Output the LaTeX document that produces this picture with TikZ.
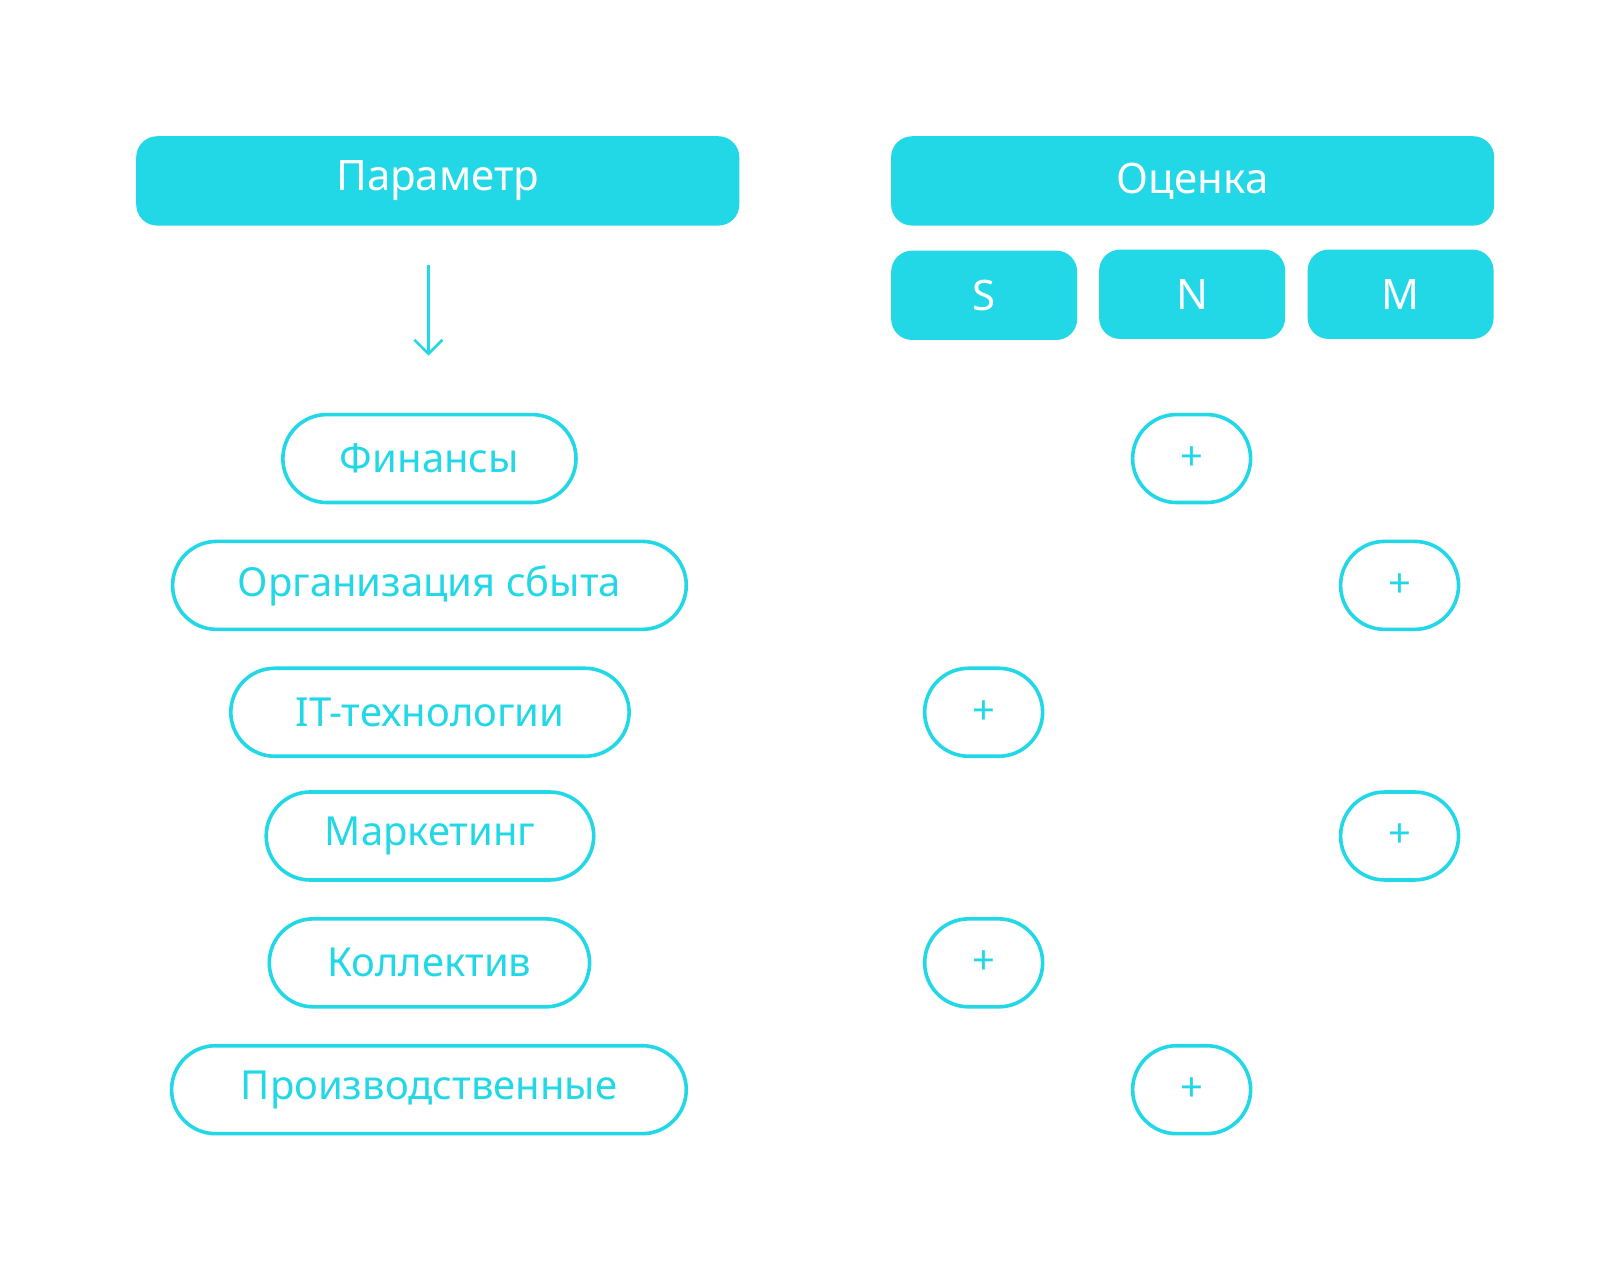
\documentclass[tikz,border=0pt]{standalone}
\usepackage{fontspec}
\setmainfont{Noto Sans}
\definecolor{cy}{HTML}{22D8E6}
\usetikzlibrary{arrows.meta}
\begin{document}
\begin{tikzpicture}[x=0.52pt,y=-0.52pt,
 hdr/.style={fill=cy,rounded corners=10.5pt,text=white,minimum height=44.7pt,inner sep=0,font=\fontsize{21}{24}\selectfont},
 pill/.style={draw=cy,line width=1.8pt,rounded corners=22pt,text=cy,minimum height=44pt,inner sep=0,font=\fontsize{20}{24}\selectfont},
 plus/.style={pill,minimum width=59pt}]
\useasboundingbox (0,0) rectangle (1558,1215);
\node[hdr,minimum width=301.6pt] (par) at (421,174) {Параметр};
\node[hdr,minimum width=301.6pt] (oc) at (1147,174) {Оценка};
\node[hdr,minimum width=93pt] (s) at (946.5,284) {S};
\node[hdr,minimum width=93pt] (n) at (1146.5,283) {N};
\node[hdr,minimum width=93pt] (m) at (1347,283) {M};
\coordinate (a1) at (412,255); \coordinate (a2) at (412,342);
\draw[cy,line width=1.3pt,-{Straight Barb[length=7pt,width=14pt]}] (a1) -- (a2);
\node[pill,minimum width=146.6pt,font=\fontsize{20}{24}\selectfont\bfseries] (f) at (413,441) {Финансы};
\node[pill,minimum width=256.9pt] (o) at (413,563) {Организация сбыта};
\node[pill,minimum width=199.2pt] (it) at (413.5,685) {IT-технологии};
\node[pill,minimum width=163.8pt] (mk) at (413.5,804) {Маркетинг};
\node[pill,minimum width=160.2pt] (k) at (413,926) {Коллектив};
\node[pill,minimum width=257.4pt] (p) at (412.5,1048) {Производственные};
\node[plus] (p1) at (1146,441) {+};
\node[plus] (p2) at (1346,563) {+};
\node[plus] (p3) at (946,685) {+};
\node[plus] (p4) at (1346,804) {+};
\node[plus] (p5) at (946,926) {+};
\node[plus] (p6) at (1146,1048) {+};
\end{tikzpicture}
\end{document}
